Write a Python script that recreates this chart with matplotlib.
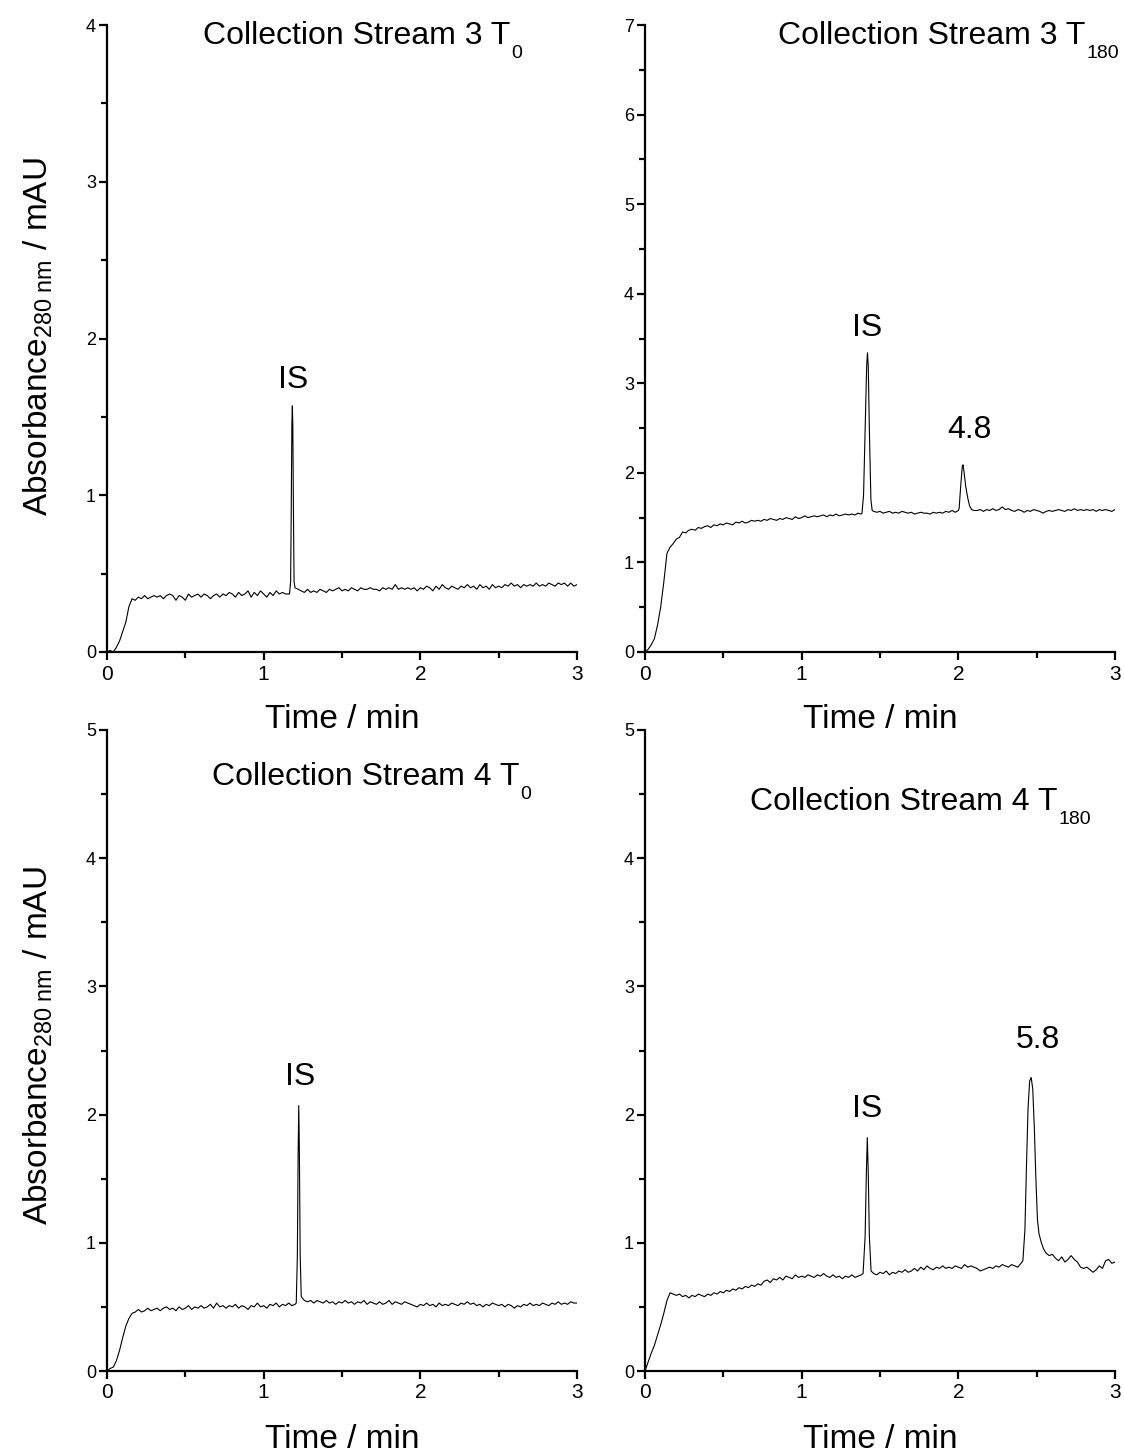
import numpy as np
import matplotlib
matplotlib.use("Agg")
import matplotlib.pyplot as plt
from matplotlib.ticker import MultipleLocator

plt.rcParams["font.family"] = ["Liberation Sans", "DejaVu Sans"]
plt.rcParams["mathtext.fontset"] = "custom"
plt.rcParams["mathtext.rm"] = "Liberation Sans"
plt.rcParams["mathtext.it"] = "Liberation Sans:italic"
plt.rcParams["mathtext.bf"] = "Liberation Sans:bold"

# Sampling times of the baseline (min), one value every 0.02 min
time_grid = np.round(np.linspace(0.0, 3.0, 151), 3)

# ---- Collection Stream 3, T0 -------------------------------------------
s3_t0_base = [
    0.00, 0.01, 0.00, 0.03, 0.07, 0.13, 0.19, 0.29, 0.34, 0.33,
    0.35, 0.34, 0.36, 0.34, 0.35, 0.36, 0.35, 0.36, 0.34, 0.36,
    0.37, 0.36, 0.33, 0.36, 0.35, 0.33, 0.37, 0.35, 0.36, 0.37,
    0.35, 0.37, 0.36, 0.34, 0.36, 0.37, 0.35, 0.37, 0.36, 0.38,
    0.37, 0.35, 0.38, 0.36, 0.37, 0.39, 0.35, 0.38, 0.36, 0.39,
    0.37, 0.35, 0.38, 0.36, 0.39, 0.37, 0.38, 0.37, 0.37, 0.38,
    0.41, 0.40, 0.39, 0.38, 0.40, 0.38, 0.39, 0.38, 0.40, 0.39,
    0.38, 0.40, 0.39, 0.40, 0.41, 0.39, 0.40, 0.39, 0.41, 0.40,
    0.39, 0.41, 0.40, 0.40, 0.41, 0.40, 0.40, 0.39, 0.41, 0.40,
    0.41, 0.40, 0.43, 0.40, 0.41, 0.40, 0.41, 0.40, 0.41, 0.39,
    0.41, 0.40, 0.42, 0.41, 0.39, 0.42, 0.40, 0.43, 0.41, 0.40,
    0.42, 0.41, 0.40, 0.42, 0.41, 0.43, 0.41, 0.42, 0.40, 0.43,
    0.41, 0.42, 0.40, 0.43, 0.41, 0.42, 0.41, 0.43, 0.42, 0.44,
    0.42, 0.43, 0.41, 0.43, 0.42, 0.43, 0.42, 0.44, 0.42, 0.43,
    0.42, 0.44, 0.43, 0.42, 0.44, 0.43, 0.44, 0.42, 0.44, 0.42,
    0.43,
]
s3_t0_is_t = [1.165, 1.172, 1.176, 1.180, 1.183, 1.186, 1.190, 1.194, 1.198]
s3_t0_is_v = [0.37, 0.45, 0.90, 1.45, 1.57, 1.45, 0.90, 0.45, 0.42]

# ---- Collection Stream 3, T180 -----------------------------------------
s3_t180_base = [
    0.00, 0.03, 0.08, 0.15, 0.30, 0.50, 0.78, 1.10, 1.17, 1.21,
    1.26, 1.28, 1.34, 1.33, 1.36, 1.37, 1.36, 1.39, 1.38, 1.40,
    1.41, 1.39, 1.42, 1.41, 1.43, 1.42, 1.44, 1.43, 1.42, 1.45,
    1.44, 1.46, 1.44, 1.45, 1.47, 1.46, 1.47, 1.46, 1.48, 1.47,
    1.49, 1.48, 1.47, 1.49, 1.48, 1.50, 1.49, 1.48, 1.51, 1.49,
    1.50, 1.52, 1.50, 1.51, 1.52, 1.51, 1.52, 1.53, 1.51, 1.53,
    1.52, 1.54, 1.52, 1.53, 1.54, 1.53, 1.54, 1.53, 1.55, 1.54,
    1.55, 1.55, 1.55, 1.57, 1.56, 1.57, 1.55, 1.56, 1.57, 1.55,
    1.56, 1.55, 1.57, 1.56, 1.55, 1.56, 1.54, 1.55, 1.56, 1.55,
    1.55, 1.54, 1.56, 1.55, 1.56, 1.55, 1.57, 1.56, 1.58, 1.56,
    1.58, 1.58, 1.58, 1.58, 1.58, 1.58, 1.58, 1.59, 1.57, 1.59,
    1.58, 1.60, 1.58, 1.59, 1.62, 1.59, 1.60, 1.58, 1.57, 1.59,
    1.58, 1.56, 1.58, 1.57, 1.59, 1.58, 1.57, 1.55, 1.57, 1.58,
    1.57, 1.58, 1.59, 1.58, 1.57, 1.59, 1.58, 1.60, 1.58, 1.59,
    1.58, 1.59, 1.58, 1.59, 1.57, 1.59, 1.58, 1.59, 1.58, 1.57,
    1.59,
]
s3_t180_is_t = [1.385, 1.395, 1.405, 1.415, 1.420, 1.425, 1.433, 1.442, 1.450]
s3_t180_is_v = [1.55, 1.75, 2.50, 3.20, 3.34, 3.20, 2.40, 1.70, 1.58]
s3_t180_p48_t = [2.005, 2.015, 2.025, 2.030, 2.037, 2.047, 2.060, 2.072, 2.085]
s3_t180_p48_v = [1.60, 1.85, 2.07, 2.09, 2.00, 1.85, 1.72, 1.63, 1.59]

# ---- Collection Stream 4, T0 -------------------------------------------
s4_t0_base = [
    0.00, 0.02, 0.03, 0.08, 0.16, 0.26, 0.35, 0.41, 0.45, 0.46,
    0.48, 0.46, 0.47, 0.49, 0.47, 0.48, 0.49, 0.47, 0.49, 0.50,
    0.48, 0.49, 0.47, 0.50, 0.48, 0.49, 0.51, 0.48, 0.50, 0.49,
    0.51, 0.49, 0.50, 0.52, 0.49, 0.53, 0.50, 0.51, 0.49, 0.51,
    0.50, 0.52, 0.49, 0.51, 0.50, 0.48, 0.51, 0.50, 0.53, 0.50,
    0.51, 0.49, 0.52, 0.51, 0.53, 0.50, 0.52, 0.51, 0.53, 0.51,
    0.52, 0.55, 0.56, 0.55, 0.54, 0.55, 0.53, 0.55, 0.54, 0.53,
    0.55, 0.53, 0.54, 0.52, 0.54, 0.53, 0.55, 0.53, 0.54, 0.52,
    0.54, 0.53, 0.55, 0.52, 0.54, 0.53, 0.52, 0.54, 0.52, 0.53,
    0.55, 0.52, 0.54, 0.53, 0.52, 0.54, 0.53, 0.52, 0.51, 0.50,
    0.52, 0.51, 0.53, 0.51, 0.52, 0.50, 0.53, 0.51, 0.52, 0.51,
    0.53, 0.52, 0.51, 0.53, 0.52, 0.54, 0.52, 0.53, 0.51, 0.52,
    0.50, 0.52, 0.51, 0.53, 0.52, 0.51, 0.52, 0.50, 0.52, 0.51,
    0.49, 0.51, 0.50, 0.52, 0.51, 0.53, 0.51, 0.52, 0.51, 0.53,
    0.52, 0.51, 0.53, 0.52, 0.54, 0.52, 0.53, 0.52, 0.54, 0.53,
    0.53,
]
s4_t0_is_t = [1.208, 1.215, 1.220, 1.224, 1.228, 1.233, 1.240]
s4_t0_is_v = [0.53, 0.90, 1.70, 2.07, 1.70, 0.90, 0.58]

# ---- Collection Stream 4, T180 -----------------------------------------
s4_t180_base = [
    0.00, 0.07, 0.14, 0.20, 0.28, 0.36, 0.45, 0.55, 0.61, 0.60,
    0.59, 0.60, 0.58, 0.59, 0.57, 0.59, 0.58, 0.60, 0.59, 0.58,
    0.60, 0.59, 0.61, 0.60, 0.62, 0.61, 0.63, 0.62, 0.64, 0.63,
    0.65, 0.64, 0.66, 0.65, 0.67, 0.66, 0.68, 0.67, 0.70, 0.71,
    0.69, 0.72, 0.71, 0.73, 0.71, 0.74, 0.73, 0.72, 0.75, 0.73,
    0.74, 0.73, 0.75, 0.74, 0.73, 0.75, 0.74, 0.76, 0.74, 0.73,
    0.75, 0.73, 0.74, 0.72, 0.74, 0.73, 0.75, 0.73, 0.74, 0.75,
    0.76, 0.76, 0.76, 0.76, 0.75, 0.77, 0.76, 0.78, 0.75, 0.77,
    0.76, 0.78, 0.77, 0.79, 0.77, 0.78, 0.80, 0.78, 0.81, 0.79,
    0.82, 0.80, 0.79, 0.81, 0.80, 0.82, 0.80, 0.81, 0.80, 0.82,
    0.81, 0.80, 0.83, 0.81, 0.82, 0.81, 0.80, 0.78, 0.79, 0.80,
    0.81, 0.80, 0.82, 0.81, 0.83, 0.82, 0.81, 0.83, 0.82, 0.81,
    0.84, 0.84, 0.84, 0.84, 0.84, 0.84, 0.84, 0.84, 0.84, 0.90,
    0.91, 0.88, 0.86, 0.89, 0.85, 0.87, 0.90, 0.87, 0.85, 0.81,
    0.80, 0.81, 0.79, 0.77, 0.79, 0.82, 0.80, 0.86, 0.87, 0.84,
    0.85,
]
s4_t180_is_t = [1.392, 1.405, 1.413, 1.419, 1.425, 1.432, 1.443]
s4_t180_is_v = [0.76, 1.05, 1.55, 1.82, 1.55, 1.05, 0.78]
s4_t180_p58_t = [2.412, 2.425, 2.435, 2.445, 2.455, 2.465, 2.475, 2.485,
                 2.495, 2.505, 2.515, 2.530, 2.545, 2.560]
s4_t180_p58_v = [0.86, 1.10, 1.60, 2.05, 2.26, 2.29, 2.20, 1.90,
                 1.50, 1.18, 1.07, 1.00, 0.95, 0.92]

# Panel titles and peak labels
titles = ["Collection Stream 3 T", "Collection Stream 3 T",
          "Collection Stream 4 T", "Collection Stream 4 T"]
title_subs = ["0", "180", "0", "180"]
y_max = [4, 7, 5, 5]


def build_trace(base, peaks):
    """Join the sampled baseline with the finely sampled peak segments."""
    t = time_grid.copy()
    v = np.asarray(base, dtype=float)
    keep = np.ones_like(t, dtype=bool)
    for pt, _ in peaks:
        keep &= ~((t >= pt[0] - 1e-9) & (t <= pt[-1] + 1e-9))
    t_all = [t[keep]] + [np.asarray(pt) for pt, _ in peaks]
    v_all = [v[keep]] + [np.asarray(pv) for _, pv in peaks]
    t_all = np.concatenate(t_all)
    v_all = np.concatenate(v_all)
    order = np.argsort(t_all)
    return t_all[order], v_all[order]


traces = [
    build_trace(s3_t0_base, [(s3_t0_is_t, s3_t0_is_v)]),
    build_trace(s3_t180_base, [(s3_t180_is_t, s3_t180_is_v),
                               (s3_t180_p48_t, s3_t180_p48_v)]),
    build_trace(s4_t0_base, [(s4_t0_is_t, s4_t0_is_v)]),
    build_trace(s4_t180_base, [(s4_t180_is_t, s4_t180_is_v),
                               (s4_t180_p58_t, s4_t180_p58_v)]),
]

# Peak annotations: (text, time, height)
peak_labels = [
    [("IS", 1.187, 1.735)],
    [("IS", 1.42, 3.62), ("4.8", 2.07, 2.48)],
    [("IS", 1.23, 2.29)],
    [("IS", 1.415, 2.04), ("5.8", 2.51, 2.58)],
]

W, H = 1124, 1456
fig = plt.figure(figsize=(W / 100, H / 100), dpi=100)

# Axes boxes in pixels: left, top, right, bottom
boxes = [(107, 25, 577, 652), (645, 25, 1115, 652),
         (107, 730, 577, 1371), (645, 730, 1115, 1371)]
title_pos = [(203, 44), (778, 44), (212, 785), (750, 810)]

axes = []
for i, (l, t, r, b) in enumerate(boxes):
    ax = fig.add_axes([l / W, 1 - b / H, (r - l) / W, (b - t) / H])
    axes.append(ax)
    x, y = traces[i]
    ax.plot(x, y, color="black", lw=0.8)
    ax.set_xlim(0, 3)
    ax.set_ylim(0, y_max[i])
    ax.spines["top"].set_visible(False)
    ax.spines["right"].set_visible(False)
    ax.spines["left"].set_linewidth(1.6)
    ax.spines["bottom"].set_linewidth(1.6)
    ax.xaxis.set_major_locator(MultipleLocator(1))
    ax.xaxis.set_minor_locator(MultipleLocator(0.5))
    ax.yaxis.set_major_locator(MultipleLocator(1))
    ax.yaxis.set_minor_locator(MultipleLocator(0.5))
    ax.tick_params(which="major", direction="out", length=6, width=1.6)
    ax.tick_params(which="minor", direction="out", length=4, width=1.6)
    ax.tick_params(axis="x", which="major", labelsize=15, pad=3)
    ax.tick_params(axis="y", which="major", labelsize=13, pad=2)
    ax.patch.set_visible(False)
    for txt, tx, ty in peak_labels[i]:
        ax.text(tx, ty, txt, ha="center", va="center", fontsize=23)

# Titles with lowered subscripts
fig.canvas.draw()
renderer = fig.canvas.get_renderer()
for i, (px, py) in enumerate(title_pos):
    main = fig.text(px / W, 1 - py / H, titles[i], fontsize=23,
                    ha="left", va="baseline")
    bb = main.get_window_extent(renderer=renderer)
    fig.text((bb.x1 + 1) / W, 1 - (py + 14) / H, title_subs[i],
             fontsize=14, ha="left", va="baseline")

# Axis labels
ylab = r"Absorbance$_{\mathregular{280\ nm}}$ / mAU"
for cy in (337, 1046):
    fig.text(38 / W, 1 - cy / H, ylab, rotation=90, fontsize=24,
             ha="center", va="center")
for cx, cy in ((342, 720), (880, 720), (342, 1440), (880, 1440)):
    fig.text(cx / W, 1 - cy / H, "Time / min", fontsize=24,
             ha="center", va="center")

fig.savefig("out.png", dpi=100)
